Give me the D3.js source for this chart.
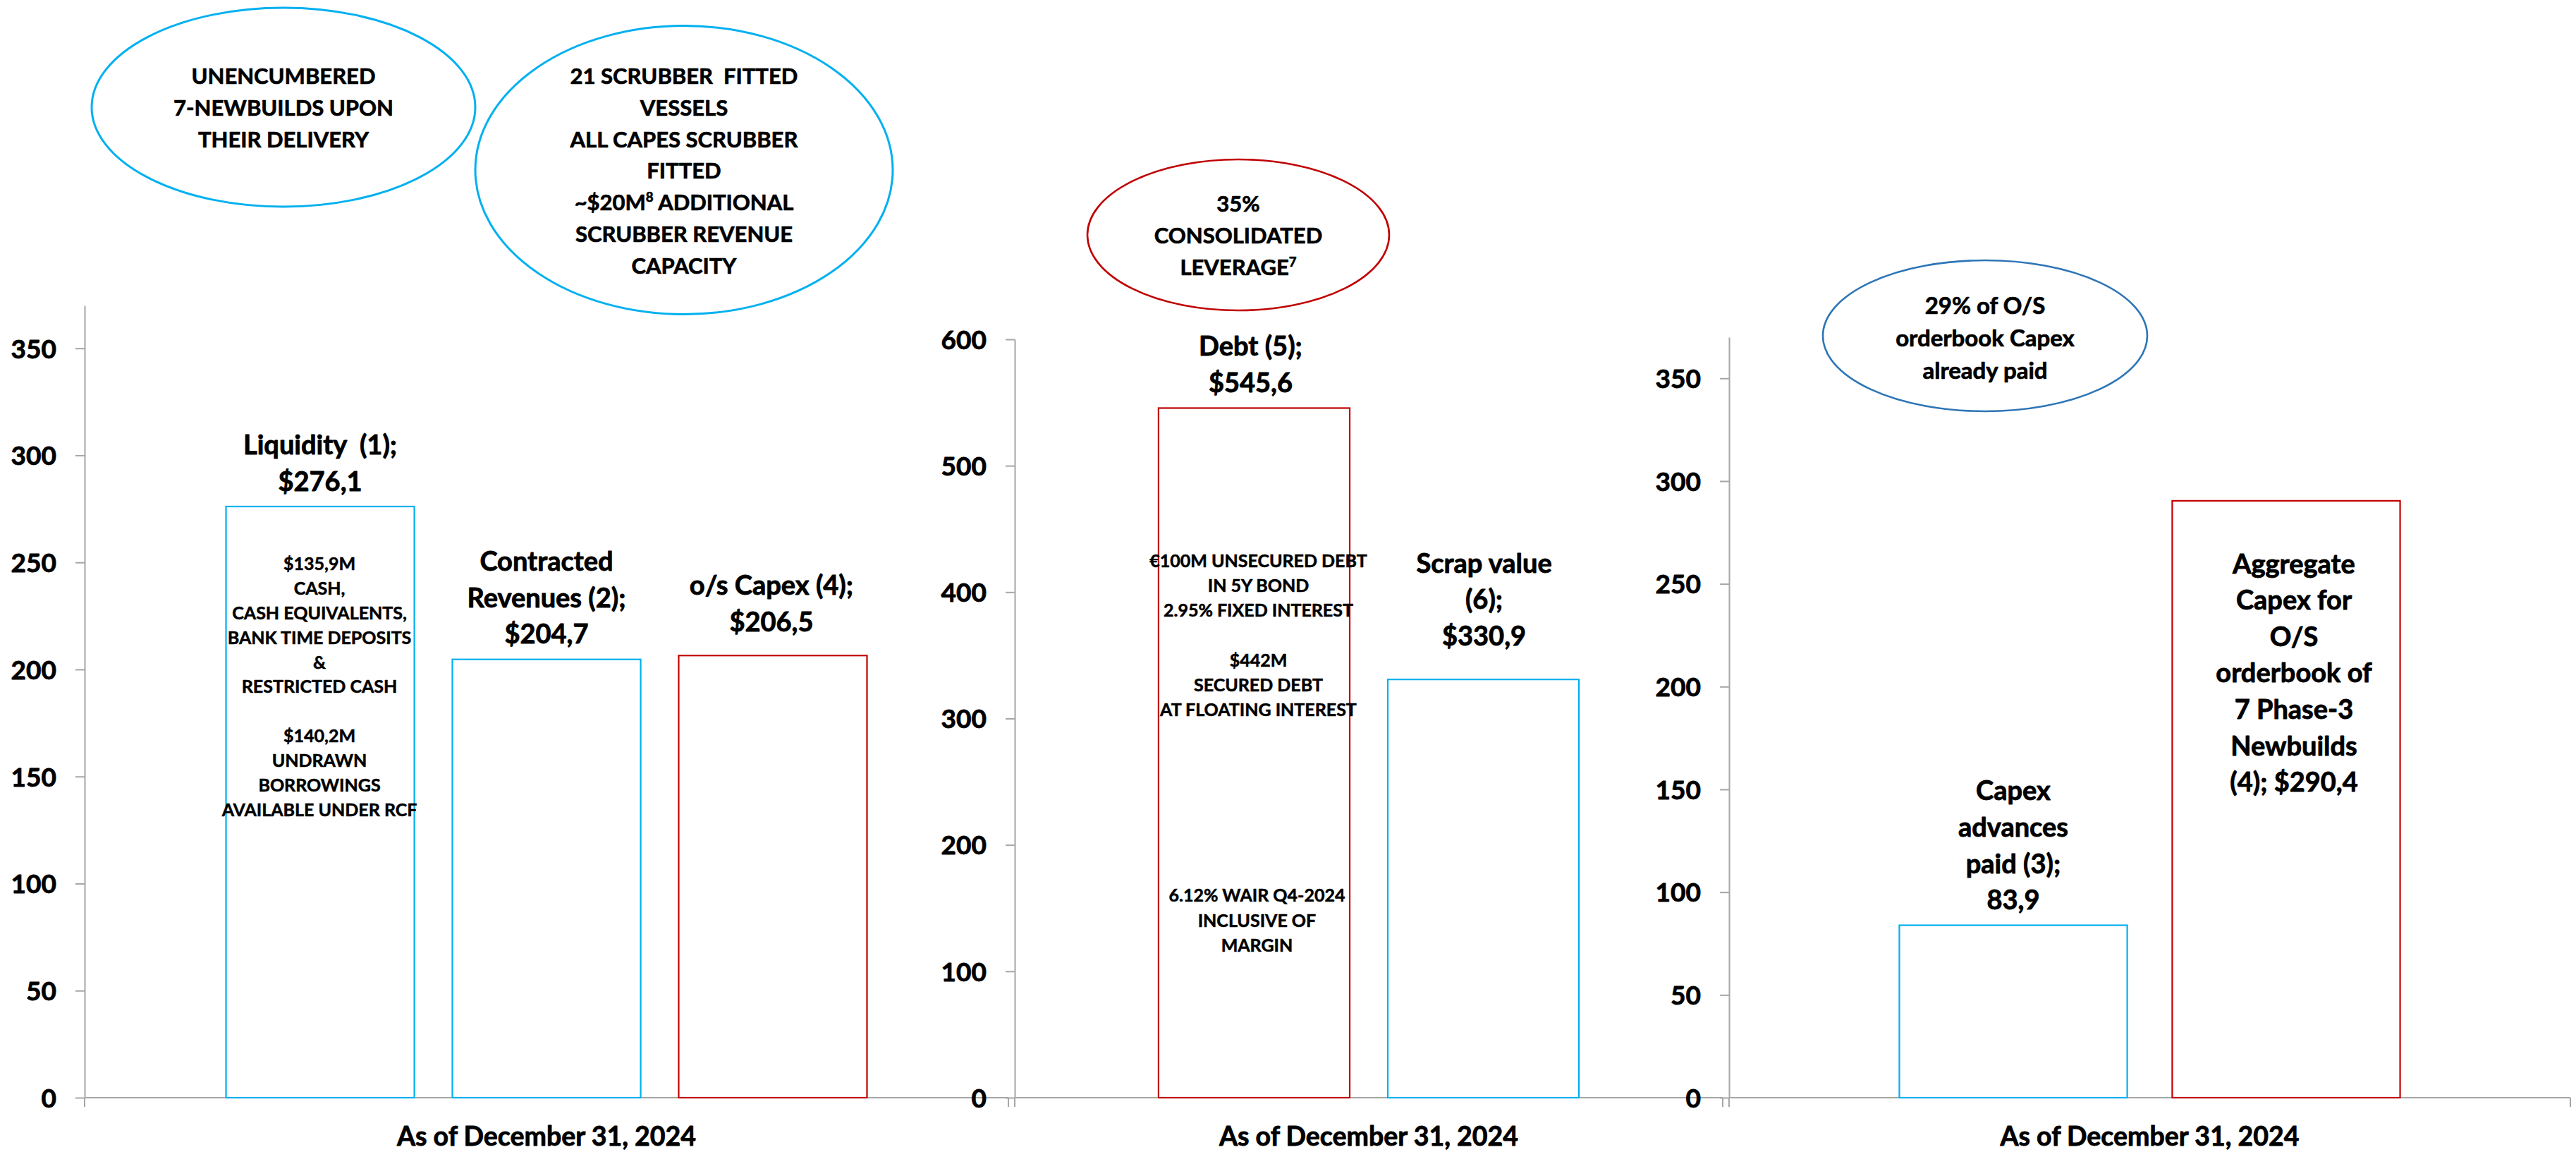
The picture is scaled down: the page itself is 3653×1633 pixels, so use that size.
<!DOCTYPE html>
<html>
<head>
<meta charset="utf-8">
<script src="https://cdn.jsdelivr.net/npm/d3@7"></script>
<style>
  html, body { margin: 0; padding: 0; background: #ffffff; }
  svg { display: block; font-family: Lato, "Open Sans", "DejaVu Sans", sans-serif; font-weight: 700; }
  svg text { white-space: pre; }
</style>
</head>
<body>
<svg id="chart" width="3653" height="1633"></svg>
<script>
// ---------------- DATA ----------------
const xCategory = "As of December 31, 2024";

const panel1Series = ["Liquidity (1)", "Contracted Revenues (2)", "o/s Capex (4)"];
const panel1Values = [276.1, 204.7, 206.5];
const panel1LabelText = [["Liquidity  (1);"], ["Contracted", "Revenues (2);"], ["o/s Capex (4);"]];
const panel1Ticks = [0, 50, 100, 150, 200, 250, 300, 350];

const panel2Series = ["Debt (5)", "Scrap value (6)"];
const panel2Values = [545.6, 330.9];
const panel2LabelText = [["Debt (5);"], ["Scrap value", "(6);"]];
const panel2Ticks = [0, 100, 200, 300, 400, 500, 600];

const panel3Series = ["Capex advances paid (3)", "Aggregate Capex for O/S orderbook of 7 Phase-3 Newbuilds (4)"];
const panel3Values = [83.9, 290.4];
const panel3LabelText = [["Capex", "advances", "paid (3);"], ["Aggregate", "Capex for", "O/S", "orderbook of", "7 Phase-3", "Newbuilds", "(4);"]];
const panel3Ticks = [0, 50, 100, 150, 200, 250, 300, 350];

const liquidityNote = ["$135,9M", "CASH,", "CASH EQUIVALENTS,", "BANK TIME DEPOSITS", "&", "RESTRICTED CASH", "", "$140,2M", "UNDRAWN", "BORROWINGS", "AVAILABLE UNDER RCF"];
const debtNoteA = ["€100M UNSECURED DEBT", "IN 5Y BOND", "2.95% FIXED INTEREST", "", "$442M", "SECURED DEBT", "AT FLOATING INTEREST"];
const debtNoteB = ["6.12% WAIR Q4-2024", "INCLUSIVE OF", "MARGIN"];

const bubble1Text = ["UNENCUMBERED", "7-NEWBUILDS UPON", "THEIR DELIVERY"];
const bubble2Text = ["21 SCRUBBER  FITTED", "VESSELS", "ALL CAPES SCRUBBER", "FITTED", ["~$20M", "8", " ADDITIONAL"], "SCRUBBER REVENUE", "CAPACITY"];
const bubble3Text = ["35%", "CONSOLIDATED", ["LEVERAGE", "7", ""]];
const bubble4Text = ["29% of O/S", "orderbook Capex", "already paid"];

// ---------------- STYLE / LAYOUT ----------------
const BLUE = "#00B0F0", RED = "#C00000", DARKBLUE = "#2E75B6", AXIS = "#A6A6A6";
const ZERO_Y = 1556;
const fmtMoney = v => "$" + v.toFixed(1).replace(".", ",");
const fmtPlain = v => v.toFixed(1).replace(".", ",");

const panels = [
  { series: panel1Series, values: panel1Values, labels: panel1LabelText, ticks: panel1Ticks,
    yMax: 370, topY: 433, axisX: 120, xEnd: 1430, outerPad: 0.2206, innerPad: 0.168,
    colors: [BLUE, BLUE, RED],
    labelMode: [{pos: "above", gap: 36, dx: 0, fmt: fmtMoney}, {pos: "above", gap: 36, dx: 0, fmt: fmtMoney}, {pos: "above", gap: 48, dx: -2, fmt: fmtMoney}] },
  { series: panel2Series, values: panel2Values, labels: panel2LabelText, ticks: panel2Ticks,
    yMax: 600, topY: 481, axisX: 1439, xEnd: 2443, outerPad: 0.342, innerPad: 0.166,
    colors: [RED, BLUE],
    labelMode: [{pos: "above", gap: 36, dx: -5, fmt: fmtMoney}, {pos: "above", gap: 62, dx: 1, fmt: fmtMoney}] },
  { series: panel3Series, values: panel3Values, labels: panel3LabelText, ticks: panel3Ticks,
    yMax: 370, topY: 478, axisX: 2452, xEnd: 3645, outerPad: 0.340, innerPad: 0.165,
    colors: [BLUE, RED],
    labelMode: [{pos: "above", gap: 36, dx: 0, fmt: fmtPlain}, {pos: "inside", gap: 89, dx: 11, fmt: v => "$" + fmtPlain(v), joinLast: true}] }
];

const svg = d3.select("#chart");
const LABEL_FS = 38, LABEL_LH = 51.6;
const NOTE_FS = 25, NOTE_LH = 35.2;

function styleText(t, fs) {
  t.attr("font-size", fs).attr("font-weight", 700).attr("fill", "#000")
   .attr("stroke", "#000").attr("stroke-width", Math.max(0.5, fs * 0.022)).attr("stroke-linejoin", "round");
  return t;
}

function textBlock(g, lines, cx, firstCenterY, fs, lh) {
  lines.forEach((ln, i) => {
    if (ln === "") return;
    const t = styleText(g.append("text")
      .attr("x", cx)
      .attr("y", firstCenterY + i * lh + 0.358 * fs)
      .attr("text-anchor", "middle"), fs);
    if (Array.isArray(ln)) {
      t.append("tspan").text(ln[0]);
      t.append("tspan").attr("font-size", fs * 0.6).attr("dy", -fs * 0.4).text(ln[1]);
      if (ln[2]) t.append("tspan").attr("dy", fs * 0.4).text(ln[2]);
    } else {
      t.text(ln);
    }
  });
}

const scalesOut = [];
panels.forEach((p) => {
  const g = svg.append("g");
  const y = d3.scaleLinear().domain([0, p.yMax]).range([ZERO_Y, p.topY]);
  const x0 = d3.scaleBand().domain([xCategory]).range([p.axisX, p.xEnd]).paddingInner(0).paddingOuter(p.outerPad);
  const x1 = d3.scaleBand().domain(p.series).range([0, x0.bandwidth()]).paddingInner(p.innerPad).paddingOuter(0);
  scalesOut.push({x0, x1, y});

  // x axis line
  g.append("line").attr("x1", p.axisX).attr("x2", p.xEnd).attr("y1", ZERO_Y).attr("y2", ZERO_Y)
    .attr("stroke", AXIS).attr("stroke-width", 2);
  [p.axisX, p.xEnd].forEach(xx => {
    g.append("line").attr("x1", xx).attr("x2", xx).attr("y1", ZERO_Y).attr("y2", ZERO_Y + 13)
      .attr("stroke", AXIS).attr("stroke-width", 2);
  });

  // y axis
  const yAxis = d3.axisLeft(y).tickValues(p.ticks).tickSize(13).tickSizeOuter(0).tickPadding(27).tickFormat(d3.format("d"));
  const ag = g.append("g").attr("transform", `translate(${p.axisX},0)`).call(yAxis);
  ag.attr("font-family", null).attr("font-size", null);
  ag.select(".domain").attr("stroke", AXIS).attr("stroke-width", 2);
  ag.selectAll(".tick line").attr("stroke", AXIS).attr("stroke-width", 2);
  ag.selectAll(".tick text").each(function() { styleText(d3.select(this), 37); }).attr("dy", "0.36em");

  // category label
  styleText(g.append("text")
    .attr("x", x0(xCategory) + x0.bandwidth() / 2)
    .attr("y", 1611 + 0.358 * 37.5)
    .attr("text-anchor", "middle"), 37.5)
    .text(xCategory);

  // bars
  p.series.forEach((s, i) => {
    const v = p.values[i];
    g.append("rect")
      .attr("x", x0(xCategory) + x1(s))
      .attr("y", y(v))
      .attr("width", x1.bandwidth())
      .attr("height", y(0) - y(v))
      .attr("fill", "#ffffff")
      .attr("stroke", p.colors[i])
      .attr("stroke-width", 2.2);
  });

  // series labels
  p.series.forEach((s, i) => {
    const v = p.values[i];
    const m = p.labelMode[i];
    let lines = p.labels[i].slice();
    if (m.joinLast) lines[lines.length - 1] = lines[lines.length - 1] + " " + m.fmt(v);
    else lines.push(m.fmt(v));
    const cx = x0(xCategory) + x1(s) + x1.bandwidth() / 2 + m.dx;
    const first = m.pos === "above" ? y(v) - m.gap - (lines.length - 1) * LABEL_LH : y(v) + m.gap;
    textBlock(g, lines, cx, first, LABEL_FS, LABEL_LH);
  });
});

// notes inside bars
{
  const s1 = scalesOut[0];
  const cx1 = s1.x0(xCategory) + s1.x1(panel1Series[0]) + s1.x1.bandwidth() / 2 - 1;
  textBlock(svg, liquidityNote, cx1, s1.y(panel1Values[0]) + 81, NOTE_FS, NOTE_LH - 0.3);

  const s2 = scalesOut[1];
  const cx2 = s2.x0(xCategory) + s2.x1(panel2Series[0]) + s2.x1.bandwidth() / 2 + 6;
  textBlock(svg, debtNoteA, cx2, 795, NOTE_FS, NOTE_LH);
  textBlock(svg, debtNoteB, cx2 - 2, 1269.5, NOTE_FS, NOTE_LH);
}

// callout ellipses
function bubble(cx, cy, rx, ry, color, sw, lines, fs, lh, firstY) {
  svg.append("ellipse").attr("cx", cx).attr("cy", cy).attr("rx", rx).attr("ry", ry)
    .attr("fill", "none").attr("stroke", color).attr("stroke-width", sw);
  textBlock(svg, lines, cx, firstY, fs, lh);
}
bubble(402, 152, 272, 141, BLUE, 3, bubble1Text, 31, 45, 108);
bubble(970, 241, 296, 204.5, BLUE, 3, bubble2Text, 31, 44.8, 108);
bubble(1756, 333, 214, 107, RED, 2.6, bubble3Text, 31, 45, 289);
bubble(2815, 476, 230, 107, DARKBLUE, 2.6, bubble4Text, 33, 46, 433);
</script>
</body>
</html>
